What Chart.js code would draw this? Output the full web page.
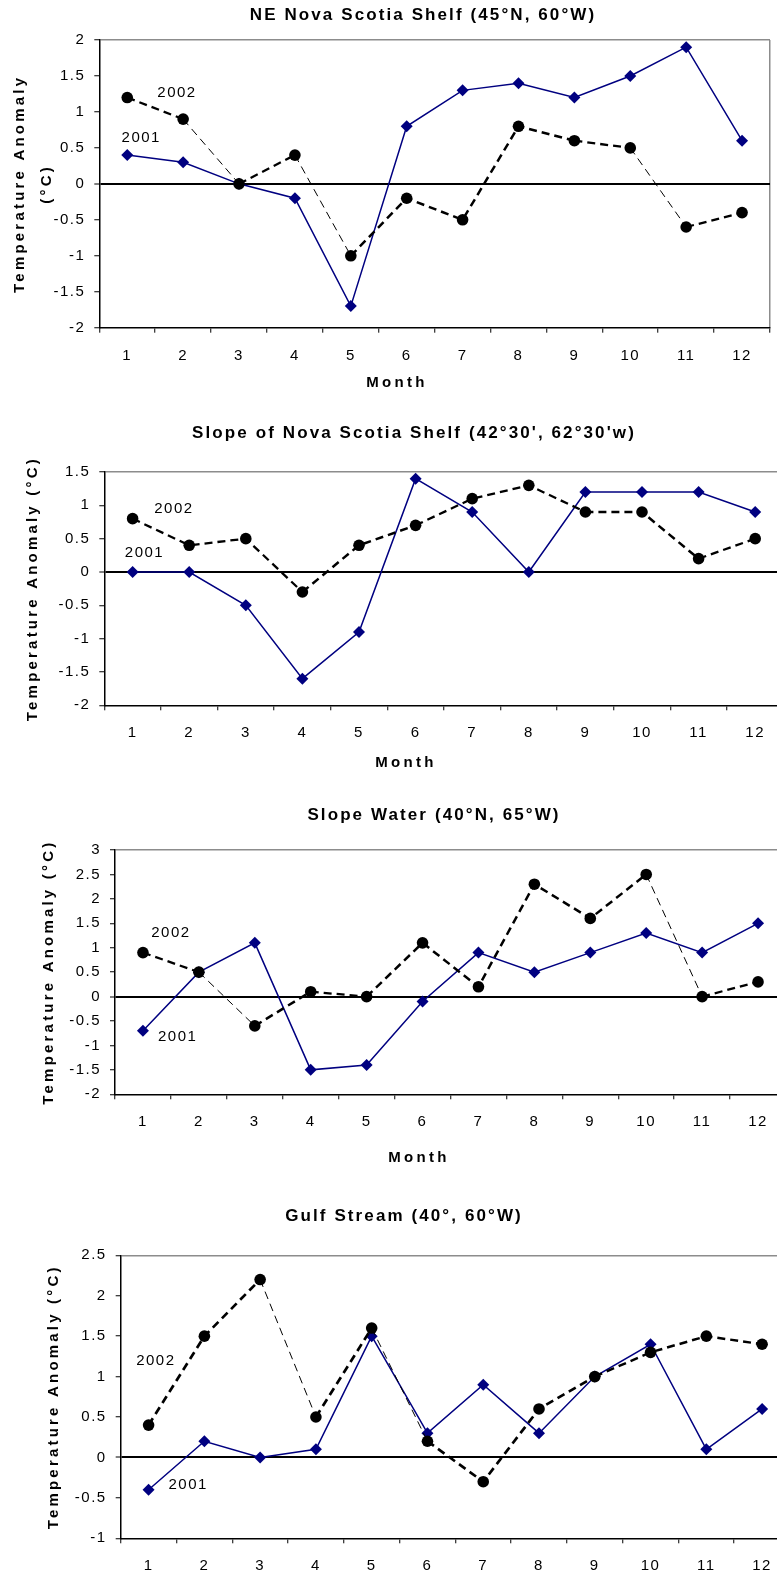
<!DOCTYPE html>
<html>
<head>
<meta charset="utf-8">
<script src="https://cdn.jsdelivr.net/npm/chart.js@4/dist/chart.umd.min.js"></script>
<style>
html,body{margin:0;padding:0;background:#fff;overflow:hidden;width:777px;height:1577px;position:relative;}
canvas{position:absolute;left:0;display:block;}
</style>
</head>
<body>
<canvas id="c1" width="800" height="395" style="top:0px"></canvas>
<canvas id="c2" width="800" height="395" style="top:395px"></canvas>
<canvas id="c3" width="800" height="395" style="top:790px"></canvas>
<canvas id="c4" width="800" height="435" style="top:1185px"></canvas>
<script>
// ---------- data ----------
const months = ['1','2','3','4','5','6','7','8','9','10','11','12'];

const neShelfTitle = 'NE Nova Scotia Shelf (45°N, 60°W)';
const neShelf2001 = [0.4, 0.3, 0.0, -0.2, -1.7, 0.8, 1.3, 1.4, 1.2, 1.5, 1.9, 0.6];
const neShelf2002 = [1.2, 0.9, 0.0, 0.4, -1.0, -0.2, -0.5, 0.8, 0.6, 0.5, -0.6, -0.4];

const slopeShelfTitle = "Slope of Nova Scotia Shelf (42°30', 62°30'w)";
const slopeShelf2001 = [0.0, 0.0, -0.5, -1.6, -0.9, 1.4, 0.9, 0.0, 1.2, 1.2, 1.2, 0.9];
const slopeShelf2002 = [0.8, 0.4, 0.5, -0.3, 0.4, 0.7, 1.1, 1.3, 0.9, 0.9, 0.2, 0.5];

const slopeWaterTitle = 'Slope Water (40°N, 65°W)';
const slopeWater2001 = [-0.7, 0.5, 1.1, -1.5, -1.4, -0.1, 0.9, 0.5, 0.9, 1.3, 0.9, 1.5];
const slopeWater2002 = [0.9, 0.5, -0.6, 0.1, 0.0, 1.1, 0.2, 2.3, 1.6, 2.5, 0.0, 0.3];

const gulfTitle = 'Gulf Stream (40°, 60°W)';
const gulf2001 = [-0.4, 0.2, 0.0, 0.1, 1.5, 0.3, 0.9, 0.3, 1.0, 1.4, 0.1, 0.6];
const gulf2002 = [0.4, 1.5, 2.2, 0.5, 1.6, 0.2, -0.3, 0.6, 1.0, 1.3, 1.5, 1.4];

// series-name labels placed in data coordinates (month index, anomaly)
const neShelfNotes     = [{text:'2002', month:0.89, value:1.27}, {text:'2001', month:0.25, value:0.64}];
const slopeShelfNotes  = [{text:'2002', month:0.73, value:0.94}, {text:'2001', month:0.21, value:0.28}];
const slopeWaterNotes  = [{text:'2002', month:0.50, value:1.31}, {text:'2001', month:0.62, value:-0.82}];
const gulfNotes        = [{text:'2002', month:0.13, value:1.19}, {text:'2001', month:0.71, value:-0.34}];

const xAxisTitle = 'Month';
const yAxisTitle = 'Temperature Anomaly (°C)';

// ---------- styles ----------
const FONT = 'Arial, "Liberation Sans", sans-serif';
const NAVY = '#000080';
const FRAME_GREY = '#8c8c8c';
const X_AXIS_H = 40;
const CANVAS_W = 800;
// per-segment stroke width of the dashed 2002 line
const neShelfDashW     = [2.3, 1, 2.3, 1, 2.5, 2.5, 2.5, 2.5, 2.3, 1, 2.3];
const slopeShelfDashW  = [2.3, 2.3, 2.3, 2.5, 2.5, 2.3, 2.3, 2.3, 2.5, 2.5, 2.3];
const slopeWaterDashW  = [2.3, 1, 2.5, 2.3, 2.5, 2.5, 2.5, 2.5, 2.5, 1, 2.3];
const gulfDashW        = [2.7, 2.7, 1, 2.7, 1, 2.7, 2.7, 2.7, 2.5, 2.5, 2.5];

const textPlugin = {
  id: 'texts',
  beforeDraw(chart) {
    chart.ctx.letterSpacing = '1.5px';
    Object.values(chart.scales).forEach(s => {
      if (s._lsPatched) return;
      const orig = s.drawTitle;
      s.drawTitle = function () {
        const c = this.ctx; const prev = c.letterSpacing;
        c.letterSpacing = '3.2px';
        orig.apply(this, arguments);
        c.letterSpacing = prev;
      };
      s._lsPatched = true;
    });
  },
  afterDraw(chart, args, opts) {
    const ctx = chart.ctx;
    ctx.save();
    ctx.fillStyle = '#000';
    ctx.textAlign = 'center';
    ctx.textBaseline = 'middle';
    ctx.font = 'bold 17px ' + FONT;
    ctx.letterSpacing = '2.1px';
    ctx.fillText(opts.title, opts.titleX, opts.titleY);
    ctx.font = 'bold 15px ' + FONT;
    ctx.letterSpacing = '3.3px';
    ctx.fillText(opts.xTitle, opts.xTitleX, opts.xTitleY);
    ctx.font = '15px ' + FONT;
    ctx.letterSpacing = '1.5px';
    const xs = chart.scales.x, ys = chart.scales.y;
    opts.notes.forEach(n => ctx.fillText(n.text, xs.getPixelForValue(n.month), ys.getPixelForValue(n.value)));
    ctx.restore();
  }
};

function near(a, b) { return Math.abs(a - b) < 1e-9; }
function tickText(v) { return String(Math.round(v * 10) / 10); }

function build(id, spec) {
  const canvas = document.getElementById(id);
  return new Chart(canvas, {
    type: 'line',
    data: {
      labels: months,
      datasets: [
        {
          label: '2002', data: spec.y2002,
          borderColor: '#000', borderWidth: 2.3, borderDash: [8, 5],
          pointStyle: 'circle', pointRadius: 5.8, pointBorderWidth: 0,
          pointBackgroundColor: '#000', backgroundColor: '#000',
          tension: 0, clip: false,
          segment: { borderWidth: c => spec.dashW[c.p0DataIndex] }
        },
        {
          label: '2001', data: spec.y2001,
          borderColor: NAVY, borderWidth: 1.5,
          pointStyle: 'rectRot', pointRadius: 6, pointBorderWidth: 0,
          pointBackgroundColor: NAVY, backgroundColor: NAVY,
          tension: 0, clip: false
        }
      ]
    },
    options: {
      responsive: false, animation: false, events: [],
      layout: { padding: { left: 0, top: spec.plotTop, right: CANVAS_W - spec.plotRight,
                           bottom: spec.h - spec.plotBottom - X_AXIS_H } },
      plugins: {
        legend: { display: false }, tooltip: { enabled: false },
        texts: { title: spec.title, titleX: spec.titleX, titleY: spec.titleY,
                 xTitle: xAxisTitle, xTitleX: spec.xTitleX, xTitleY: spec.xTitleY, notes: spec.notes }
      },
      scales: {
        x: {
          type: 'category', offset: true,
          grid: { offset: true, drawOnChartArea: true, drawTicks: true, tickLength: 5,
                  color: c => c.index === undefined ? FRAME_GREY : 'transparent',
                  lineWidth: 1.5, tickColor: '#000', tickWidth: 1 },
          border: { display: true, color: '#000', width: 1.5 },
          ticks: { color: '#000', font: { family: FONT, size: 15 }, padding: 14, autoSkip: false, maxRotation: 0, minRotation: 0 },
          afterFit: s => { s.height = X_AXIS_H; }
        },
        y: {
          min: spec.min, max: spec.max,
          ticks: { stepSize: 0.5, color: '#000', font: { family: FONT, size: 15 }, padding: 9, callback: tickText },
          grid: {
            drawTicks: true, tickLength: 5, tickColor: '#000', tickWidth: 1,
            color: c => !c.tick ? 'transparent' : near(c.tick.value, 0) ? '#000' : near(c.tick.value, spec.max) ? FRAME_GREY : 'transparent',
            lineWidth: c => c.tick && near(c.tick.value, 0) ? 2 : 1.5
          },
          border: { display: true, color: '#000', width: 1.5 },
          title: { display: true, text: spec.yTitle, color: '#000',
                   font: { family: FONT, size: 15, weight: 'bold', lineHeight: spec.yTitleLH },
                   padding: { top: spec.yTitlePad, bottom: 0 } },
          afterFit: s => { s.width = spec.plotLeft; }
        }
      }
    },
    plugins: [textPlugin]
  });
}

build('c1', {
  y2001: neShelf2001, y2002: neShelf2002, dashW: neShelfDashW, notes: neShelfNotes,
  title: neShelfTitle, min: -2, max: 2,
  h: 395, plotLeft: 99.3, plotTop: 40, plotRight: 770, plotBottom: 327.7,
  yTitle: ['Temperature Anomaly', '(°C)'], yTitleLH: 1.833, yTitlePad: 6,
  titleX: 423, titleY: 15, xTitleX: 397, xTitleY: 383
});
build('c2', {
  y2001: slopeShelf2001, y2002: slopeShelf2002, dashW: slopeShelfDashW, notes: slopeShelfNotes,
  title: slopeShelfTitle, min: -2, max: 1.5,
  h: 395, plotLeft: 104.3, plotTop: 77, plotRight: 783.5, plotBottom: 310.3,
  yTitle: yAxisTitle, yTitleLH: 1.2, yTitlePad: 24,
  titleX: 414, titleY: 38, xTitleX: 406, xTitleY: 368
});
build('c3', {
  y2001: slopeWater2001, y2002: slopeWater2002, dashW: slopeWaterDashW, notes: slopeWaterNotes,
  title: slopeWaterTitle, min: -2, max: 3,
  h: 395, plotLeft: 115, plotTop: 60, plotRight: 786, plotBottom: 304.3,
  yTitle: yAxisTitle, yTitleLH: 1.2, yTitlePad: 40,
  titleX: 434, titleY: 25, xTitleX: 419, xTitleY: 368
});
build('c4', {
  y2001: gulf2001, y2002: gulf2002, dashW: gulfDashW, notes: gulfNotes,
  title: gulfTitle, min: -1, max: 2.5,
  h: 435, plotLeft: 120.7, plotTop: 70.3, plotRight: 790, plotBottom: 353.3,
  yTitle: yAxisTitle, yTitleLH: 1.2, yTitlePad: 45,
  titleX: 404, titleY: 31.7, xTitleX: 412, xTitleY: 415
});
</script>
</body>
</html>
